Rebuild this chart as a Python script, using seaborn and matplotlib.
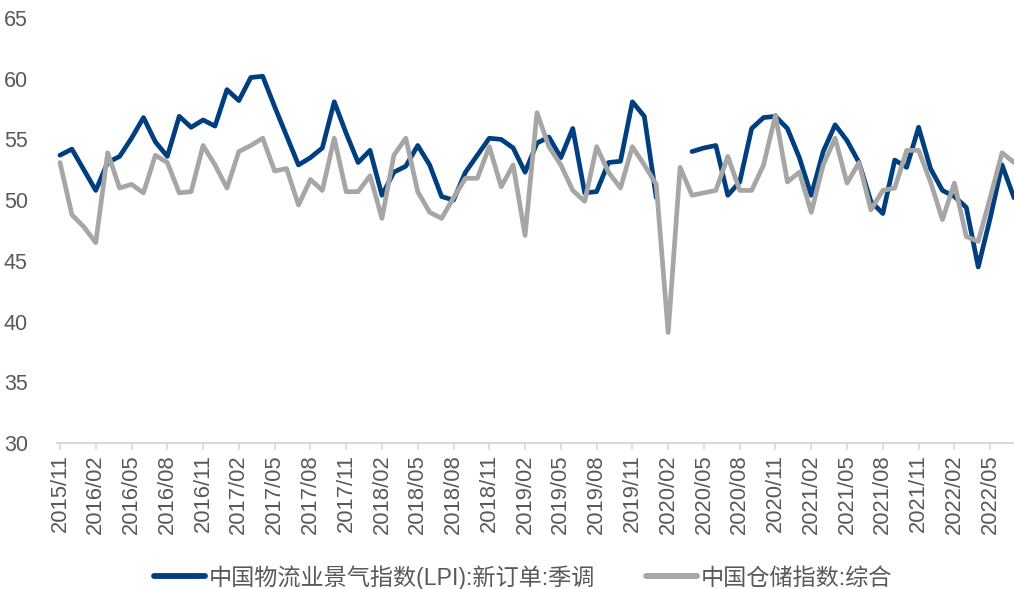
import matplotlib
matplotlib.use("Agg")
import matplotlib.pyplot as plt
import numpy as np
import pandas as pd
import seaborn as sns

# monthly, 2015/11 .. 2022/07
START = "2015-11"
N_MONTHS = 81

LPI_LABEL = "中国物流业景气指数(LPI):新订单:季调"
STORE_LABEL = "中国仓储指数:综合"

# 中国物流业景气指数(LPI):新订单:季调 (no data 2020/02-2020/03)
lpi_new_orders = [
    53.7, 54.2, 52.5, 50.8, 53.1, 53.6, 55.1, 56.8, 54.8, 53.6, 56.9, 56.0,
    56.6, 56.1, 59.1, 58.2, 60.1, 60.2, 57.7, 55.3, 52.9, 53.5, 54.3, 58.1,
    55.5, 53.1, 54.1, 50.4, 52.3, 52.8, 54.5, 52.9, 50.3, 50.0, 52.3, 53.7,
    55.1, 55.0, 54.3, 52.3, 54.7, 55.2, 53.5, 55.9, 50.6, 50.7, 53.1, 53.2,
    58.1, 56.9, 50.2, np.nan, np.nan, 54.0, 54.3, 54.5, 50.4, 51.5, 55.9, 56.8,
    56.9, 55.9, 53.5, 50.4, 54.0, 56.2, 54.9, 53.1, 49.9, 48.9, 53.3, 52.7,
    56.0, 52.6, 50.8, 50.3, 49.4, 44.5, 48.5, 52.9, 50.2,
]

# 中国仓储指数:综合
storage_index = [
    53.1, 48.8, 47.8, 46.5, 53.9, 51.0, 51.3, 50.6, 53.7, 53.1, 50.6, 50.7,
    54.5, 52.9, 51.0, 54.0, 54.5, 55.1, 52.4, 52.6, 49.6, 51.7, 50.8, 55.1,
    50.7, 50.7, 52.0, 48.5, 53.7, 55.1, 50.7, 49.0, 48.5, 50.2, 51.8, 51.8,
    54.4, 51.1, 52.9, 47.1, 57.2, 54.4, 52.9, 50.8, 49.9, 54.4, 52.3, 51.0,
    54.4, 52.9, 51.3, 39.1, 52.7, 50.4, 50.6, 50.8, 53.6, 50.8, 50.8, 52.9,
    57.0, 51.5, 52.3, 49.0, 52.9, 55.1, 51.4, 53.1, 49.2, 50.8, 51.0, 54.1,
    54.1, 51.5, 48.4, 51.4, 47.0, 46.6, 50.2, 53.9, 53.1,
]

months = pd.period_range(START, periods=N_MONTHS, freq="M")
month_labels = [m.strftime("%Y/%m") for m in months]

BLUE = "#003f7f"
GREY = "#a6a6a6"
TEXT = "#595959"


def long_frame():
    idx = np.arange(N_MONTHS)
    lpi = pd.DataFrame({"t": idx, "value": lpi_new_orders, "series": LPI_LABEL})
    # split at the gap so the line breaks
    lpi["seg"] = np.cumsum(lpi["value"].isna()).astype(str)
    lpi = lpi.dropna()
    store = pd.DataFrame({"t": idx, "value": storage_index, "series": STORE_LABEL, "seg": "s"})
    df = pd.concat([lpi, store], ignore_index=True)
    df["unit"] = df["series"] + df["seg"]
    return df


df = long_frame()

sns.set_theme(style="white")
plt.rcParams["font.family"] = ["Liberation Sans", "Noto Sans CJK SC", "DejaVu Sans"]

fig = plt.figure(figsize=(10.14, 5.89), dpi=100)
ax = fig.add_axes([57 / 1014, 146 / 589, 1 - 57 / 1014, (443 - 18) / 589])

sns.lineplot(
    data=df, x="t", y="value", hue="series", units="unit", estimator=None,
    hue_order=[LPI_LABEL, STORE_LABEL], palette=[BLUE, GREY],
    linewidth=3.4, ax=ax, legend=True,
)

ax.set_xlim(-0.25, N_MONTHS - 1)
ax.set_ylim(30, 65)
ax.set_yticks(range(30, 66, 5))
ax.set_xticks(range(0, N_MONTHS - 2, 3))
ax.set_xticklabels(month_labels[0:N_MONTHS - 2:3], rotation=90)
ax.set_xlabel("")
ax.set_ylabel("")

for side in ("top", "right", "left"):
    ax.spines[side].set_visible(False)
ax.spines["bottom"].set_color("#d9d9d9")
ax.spines["bottom"].set_linewidth(1.5)
ax.tick_params(axis="x", bottom=True, length=5, width=1.2, color="#d9d9d9",
               labelsize=15.8, labelcolor=TEXT, pad=3)
ax.tick_params(axis="y", left=False, labelsize=15.5, labelcolor=TEXT, pad=15)

handles, labels = ax.get_legend_handles_labels()
ax.legend_.remove()
fig.legend(handles, labels, loc="center", bbox_to_anchor=(0.516, 0.02),
           ncol=2, frameon=False, fontsize=16.7, handlelength=2.2,
           handletextpad=0.15, columnspacing=2.2, labelcolor=TEXT)
for h in fig.legends[0].get_lines():
    h.set_linewidth(4.2)

fig.savefig("out.png", dpi=100)
